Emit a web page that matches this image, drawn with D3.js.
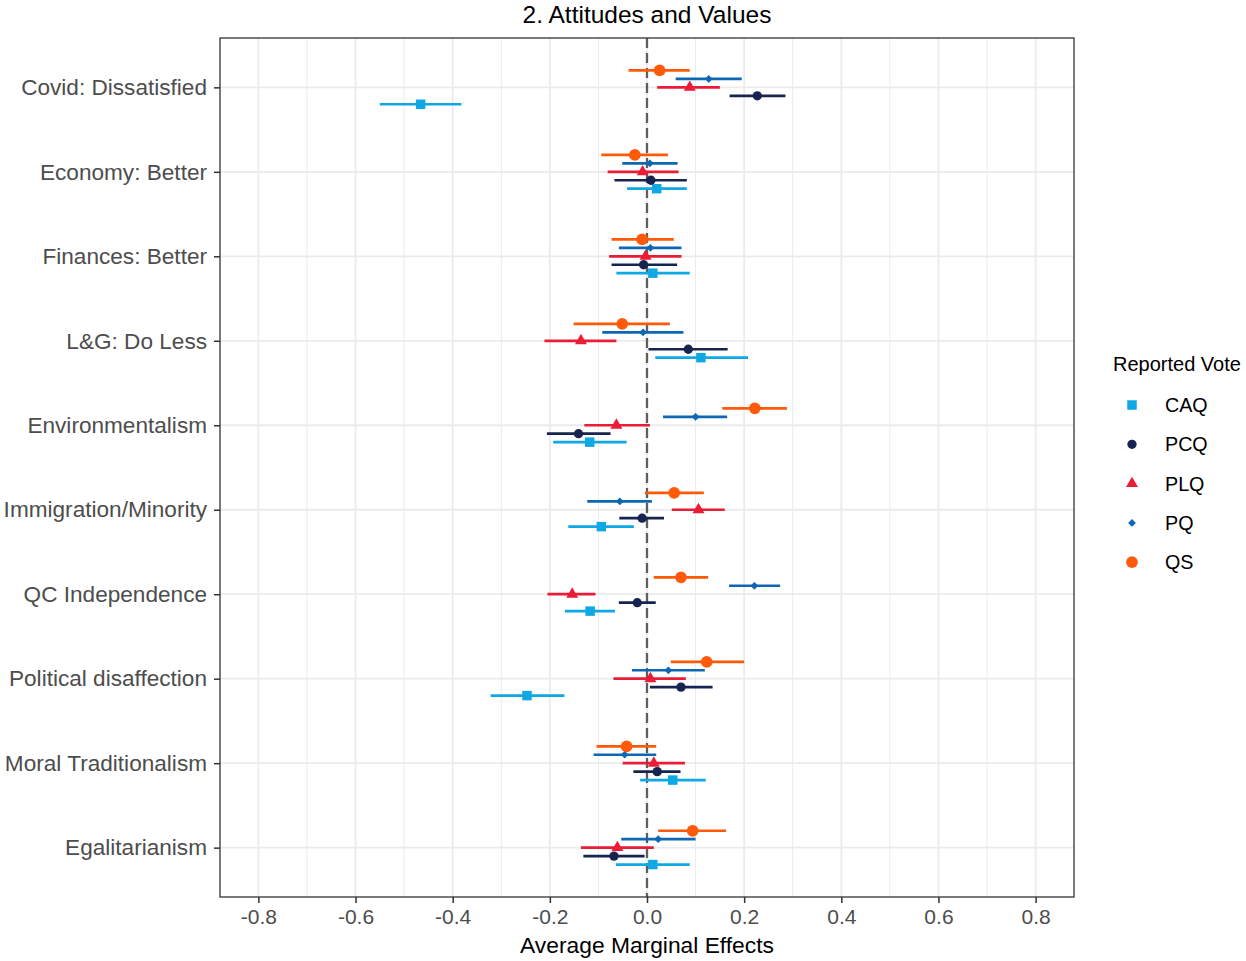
<!DOCTYPE html>
<html lang="en">
<head>
    <meta charset="UTF-8">
    <style>
        body { margin: 0; padding: 0; background: #fff; overflow: hidden; }
        svg { display: block; font-family: "Liberation Sans", Arial, sans-serif; }
    </style>
</head>
<body>
    <svg id="chart"></svg>

    <script src="https://d3js.org/d3.v7.min.js"></script>
    <script>
        // categories, top to bottom
        const categories = [
            "Covid: Dissatisfied", "Economy: Better", "Finances: Better", "L&G: Do Less",
            "Environmentalism", "Immigration/Minority", "QC Independence",
            "Political disaffection", "Moral Traditionalism", "Egalitarianism"
        ];

        // [estimate, low, high] per category, same order as categories
        const CAQ = [[-0.466, -0.550, -0.382], [0.020, -0.041, 0.082], [0.012, -0.063, 0.088], [0.111, 0.017, 0.208], [-0.118, -0.193, -0.042],
                     [-0.094, -0.162, -0.027], [-0.117, -0.169, -0.066], [-0.247, -0.322, -0.170], [0.053, -0.014, 0.121], [0.012, -0.064, 0.088]];
        const PCQ = [[0.227, 0.170, 0.285], [0.008, -0.067, 0.082], [-0.007, -0.073, 0.062], [0.085, 0.003, 0.166], [-0.141, -0.206, -0.075],
                     [-0.010, -0.057, 0.035], [-0.020, -0.058, 0.018], [0.070, 0.006, 0.135], [0.021, -0.028, 0.069], [-0.068, -0.131, -0.005]];
        const PLQ = [[0.088, 0.021, 0.150], [-0.009, -0.081, 0.065], [-0.003, -0.078, 0.071], [-0.136, -0.211, -0.063], [-0.063, -0.129, 0.006],
                     [0.106, 0.051, 0.160], [-0.154, -0.205, -0.106], [0.007, -0.069, 0.080], [0.014, -0.050, 0.078], [-0.061, -0.136, 0.014]];
        const PQ  = [[0.127, 0.059, 0.195], [0.006, -0.051, 0.063], [0.007, -0.058, 0.071], [-0.008, -0.092, 0.075], [0.100, 0.033, 0.165],
                     [-0.056, -0.123, 0.010], [0.221, 0.169, 0.274], [0.044, -0.031, 0.119], [-0.046, -0.110, 0.019], [0.023, -0.053, 0.100]];
        const QS  = [[0.026, -0.038, 0.088], [-0.025, -0.094, 0.043], [-0.010, -0.073, 0.055], [-0.051, -0.151, 0.047], [0.222, 0.155, 0.288],
                     [0.056, -0.004, 0.117], [0.070, 0.014, 0.126], [0.123, 0.049, 0.200], [-0.042, -0.104, 0.019], [0.094, 0.023, 0.163]];

        const parties = ["CAQ", "PCQ", "PLQ", "PQ", "QS"];
        const partyData = { CAQ, PCQ, PLQ, PQ, QS };
        const dodgeOrder = ["QS", "PQ", "PLQ", "PCQ", "CAQ"]; // top to bottom inside a row
        const xTicks = [-0.8, -0.6, -0.4, -0.2, 0, 0.2, 0.4, 0.6, 0.8];
        const xMinor = [-0.7, -0.5, -0.3, -0.1, 0.1, 0.3, 0.5, 0.7];

        const colors = { CAQ: "#0fa8e4", PCQ: "#17244f", PLQ: "#ea1c36", PQ: "#0d67b4", QS: "#ff5a0a" };

        // symbols
        const shapes = {
            CAQ: d3.symbol().type(d3.symbolSquare).size(90)(),
            PCQ: d3.symbol().type(d3.symbolCircle).size(68)(),
            PLQ: d3.symbol().type(d3.symbolTriangle).size(62)(),
            PQ:  d3.symbol().type(d3.symbolSquare).size(30)(),
            QS:  d3.symbol().type(d3.symbolCircle).size(108)()
        };
        const shapeRotate = { CAQ: 0, PCQ: 0, PLQ: 0, PQ: 45, QS: 0 };

        const width = 1246, height = 961;
        const panel = { left: 220, right: 1074, top: 38, bottom: 897 };

        const svg = d3.select("#chart").attr("width", width).attr("height", height);

        const x = d3.scaleLinear().domain([-0.879, 0.879]).range([panel.left, panel.right]);
        const y = d3.scalePoint().domain(categories).range([panel.top, panel.bottom]).padding(0.584);
        const dodge = d3.scalePoint().domain(dodgeOrder).range([-0.2 * y.step(), 0.2 * y.step()]);

        // gridlines
        const grid = svg.append("g");
        grid.selectAll(".minor").data(xMinor).enter().append("line")
            .attr("x1", d => x(d)).attr("x2", d => x(d))
            .attr("y1", panel.top).attr("y2", panel.bottom)
            .attr("stroke", "#ebebeb").attr("stroke-width", 1);
        grid.selectAll(".major").data(xTicks).enter().append("line")
            .attr("x1", d => x(d)).attr("x2", d => x(d))
            .attr("y1", panel.top).attr("y2", panel.bottom)
            .attr("stroke", "#ebebeb").attr("stroke-width", 1.8);
        grid.selectAll(".hmajor").data(categories).enter().append("line")
            .attr("x1", panel.left).attr("x2", panel.right)
            .attr("y1", d => y(d)).attr("y2", d => y(d))
            .attr("stroke", "#ebebeb").attr("stroke-width", 1.8);

        // zero reference
        svg.append("line")
            .attr("x1", x(0)).attr("x2", x(0))
            .attr("y1", panel.top).attr("y2", panel.bottom)
            .attr("stroke", "#5e5e5e").attr("stroke-width", 2.3)
            .attr("stroke-dasharray", "10,5");

        const rows = [];
        parties.forEach(p => {
            partyData[p].forEach((v, i) => {
                rows.push({ party: p, cat: categories[i], est: v[0], lo: v[1], hi: v[2] });
            });
        });

        // error bars
        svg.append("g").selectAll("line").data(rows).enter().append("line")
            .attr("x1", d => x(d.lo)).attr("x2", d => x(d.hi))
            .attr("y1", d => y(d.cat) + dodge(d.party))
            .attr("y2", d => y(d.cat) + dodge(d.party))
            .attr("stroke", d => colors[d.party])
            .attr("stroke-width", 2.7);

        // points
        svg.append("g").selectAll("path").data(rows).enter().append("path")
            .attr("d", d => shapes[d.party])
            .attr("transform", d => `translate(${x(d.est)},${y(d.cat) + dodge(d.party)}) rotate(${shapeRotate[d.party]})`)
            .attr("fill", d => colors[d.party]);

        // panel border
        svg.append("rect")
            .attr("x", panel.left).attr("y", panel.top)
            .attr("width", panel.right - panel.left).attr("height", panel.bottom - panel.top)
            .attr("fill", "none").attr("stroke", "#333").attr("stroke-width", 1.3);

        // x axis
        const xAxis = svg.append("g")
            .attr("transform", `translate(0,${panel.bottom})`)
            .call(d3.axisBottom(x).tickValues(xTicks).tickSize(6).tickPadding(6).tickFormat(d3.format(".1f")));
        xAxis.select(".domain").remove();
        xAxis.selectAll(".tick line").attr("stroke", "#333").attr("stroke-width", 1.5);
        xAxis.selectAll(".tick text").attr("fill", "#4d4d4d").attr("font-size", "21px")
            .attr("font-family", "Liberation Sans, Arial, sans-serif")
            .text(d => d3.format(".1f")(d).replace("−", "-"));

        // y axis
        const yAxis = svg.append("g")
            .attr("transform", `translate(${panel.left},0)`)
            .call(d3.axisLeft(y).tickSize(6).tickPadding(7));
        yAxis.select(".domain").remove();
        yAxis.selectAll(".tick line").attr("stroke", "#333").attr("stroke-width", 1.5);
        yAxis.selectAll(".tick text").attr("fill", "#4d4d4d").attr("font-size", "22.6px")
            .attr("font-family", "Liberation Sans, Arial, sans-serif");

        // titles
        svg.append("text")
            .attr("x", (panel.left + panel.right) / 2).attr("y", 23)
            .attr("text-anchor", "middle").attr("font-size", "24.5px").attr("fill", "#000")
            .text("2. Attitudes and Values");
        svg.append("text")
            .attr("x", (panel.left + panel.right) / 2).attr("y", 953)
            .attr("text-anchor", "middle").attr("font-size", "22.8px").attr("fill", "#000")
            .text("Average Marginal Effects");

        // legend
        const legend = svg.append("g");
        legend.append("text")
            .attr("x", 1113).attr("y", 371)
            .attr("font-size", "20px").attr("fill", "#000")
            .text("Reported Vote");
        const item = legend.selectAll(".item").data(parties).enter().append("g")
            .attr("transform", (d, i) => `translate(1132,${405 + i * 39.3})`);
        item.append("path")
            .attr("d", d => shapes[d])
            .attr("transform", d => `rotate(${shapeRotate[d]})`)
            .attr("fill", d => colors[d]);
        item.append("text")
            .attr("x", 33).attr("y", 7)
            .attr("font-size", "19.7px").attr("fill", "#000")
            .text(d => d);
    </script>
</body>
</html>
